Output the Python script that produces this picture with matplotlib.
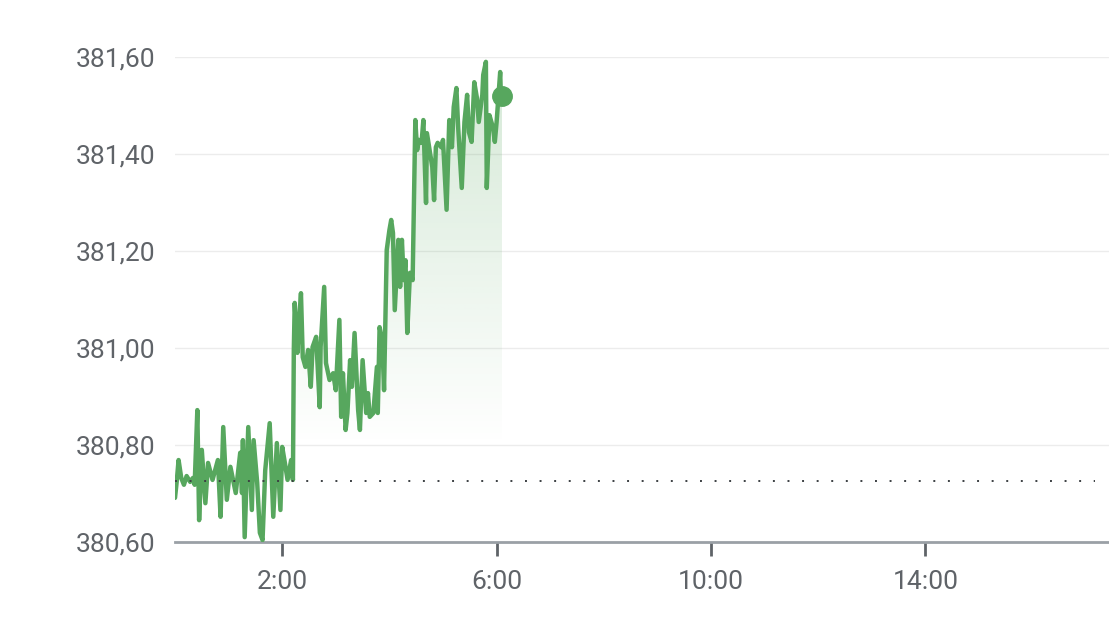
import matplotlib
matplotlib.use("Agg")
import matplotlib.pyplot as plt
import numpy as np
from matplotlib.ticker import FuncFormatter, FixedLocator

plt.rcParams['font.family'] = ['Roboto', 'DejaVu Sans']

# minutes since 0:00
minutes = [0, 2, 4, 7, 10, 13, 17, 20, 22, 25, 27, 30, 34, 37, 42, 48, 51, 54, 58, 62,
           65, 68, 73, 75, 76, 78, 82, 86, 88, 92, 95, 98, 101, 106, 110, 114, 118, 120, 123, 126,
           130, 132, 133, 134, 137, 139, 141, 143, 146, 149, 152, 154, 158, 162, 163, 167, 169, 173, 177, 180,
           184, 186, 188, 191, 193, 196, 198, 201, 205, 207, 210, 214, 216, 218, 222, 226, 227, 229, 232, 234,
           237, 240, 242, 244, 246, 250, 252, 254, 256, 258, 260, 263, 266, 269, 271, 273, 276, 278, 281, 282,
           285, 288, 290, 292, 294, 298, 300, 304, 307, 310, 312, 315, 317, 321, 324, 327, 329, 332, 335, 338,
           340, 344, 345, 348, 349, 352, 356, 358, 360, 364, 365, 366]
prices = [380.691, 380.726, 380.769, 380.732, 380.718, 380.736, 380.724, 380.732, 380.718, 380.872,
          380.645, 380.790, 380.680, 380.763, 380.728, 380.769, 380.652, 380.837, 380.687, 380.755,
          380.728, 380.701, 380.784, 380.701, 380.810, 380.610, 380.837, 380.666, 380.810, 380.722,
          380.619, 380.604, 380.748, 380.845, 380.652, 380.804, 380.666, 380.796, 380.763, 380.728,
          380.769, 380.728, 380.996, 381.093, 380.990, 381.058, 381.113, 380.981, 380.961, 380.996,
          380.920, 381.002, 381.023, 380.878, 381.002, 381.126, 380.969, 380.934, 380.948, 380.913,
          381.058, 380.858, 380.948, 380.831, 380.866, 380.975, 380.920, 381.031, 380.872, 380.831,
          380.975, 380.866, 380.907, 380.858, 380.866, 380.961, 380.866, 381.043, 381.016, 380.913,
          381.202, 381.243, 381.264, 381.237, 381.078, 381.223, 381.126, 381.223, 381.140, 381.181,
          381.031, 381.155, 381.140, 381.470, 381.408, 381.429, 381.423, 381.470, 381.299, 381.443,
          381.408, 381.373, 381.305, 381.414, 381.423, 381.414, 381.429, 381.285, 381.470, 381.414,
          381.497, 381.536, 381.454, 381.330, 381.466, 381.522, 381.445, 381.425, 381.548, 381.515,
          381.466, 381.522, 381.563, 381.590, 381.330, 381.480, 381.454, 381.425, 381.466, 381.569,
          381.507, 381.520]

prev_close = 380.726
y_ticks = [380.60, 380.80, 381.00, 381.20, 381.40, 381.60]
x_ticks = [120, 360, 600, 840]
x_labels = ["2:00", "6:00", "10:00", "14:00"]

green = '#57a75e'
gray_text = '#5f6368'

fig = plt.figure(figsize=(11.09, 6.24), dpi=100)
ax = fig.add_axes([175/1109, 82/624, 934/1109, 485/624])
ax.set_xlim(0, 1045.5)
ax.set_ylim(380.60, 381.60)

t = np.array(minutes, dtype=float)
p = np.array(prices)

# gradient fill under the line
grad = np.linspace(0, 1, 256).reshape(-1, 1)
ylo, yhi = 380.80, 381.60
alpha = np.clip(grad, 0, 1) * 0.26
rgba = np.zeros((256, 1, 4))
c = matplotlib.colors.to_rgb(green)
rgba[..., 0], rgba[..., 1], rgba[..., 2] = c
rgba[..., 3] = alpha
poly = ax.fill_between(t, p, prev_close, color='none', lw=0)
im = ax.imshow(rgba, extent=[t[0], t[-1], ylo, yhi], origin='lower', aspect='auto', zorder=1)
path = poly.get_paths()[0]
im.set_clip_path(path, transform=ax.transData)
ax.set_xlim(0, 1045.5)
ax.set_ylim(380.60, 381.60)

ax.plot(t, p, color=green, lw=3.2, zorder=3, solid_joinstyle='round', solid_capstyle='round')
ax.plot([t[-1]], [p[-1]], 'o', color=green, ms=14, zorder=4, clip_on=False)

ax.axhline(prev_close, xmin=0, xmax=(1095-175)/934, color='#3c4043', lw=1.4,
           ls=(0, (1, 6.5)), zorder=5)

for yv in y_ticks[1:]:
    ax.axhline(yv, color='#ececec', lw=1, zorder=0)

for s in ['top', 'right', 'left']:
    ax.spines[s].set_visible(False)
ax.spines['bottom'].set_color('#9aa0a6')
ax.spines['bottom'].set_linewidth(2)

ax.yaxis.set_major_locator(FixedLocator(y_ticks))
ax.yaxis.set_major_formatter(FuncFormatter(lambda v, _: f"{v:.2f}".replace('.', ',')))
ax.tick_params(axis='y', length=0, pad=14, labelsize=19, labelcolor=gray_text)
ax.set_xticks(x_ticks)
ax.set_xticklabels(x_labels)
ax.tick_params(axis='x', length=10, width=2, color='#5f6368', pad=10,
               labelsize=19, labelcolor=gray_text)

fig.savefig('out.png', dpi=100)
